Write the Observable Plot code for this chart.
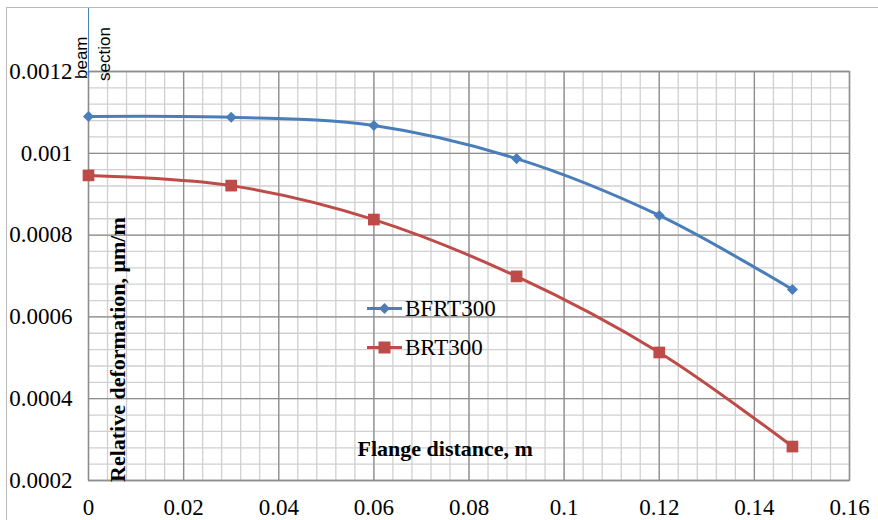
<!DOCTYPE html>
<html>
<head>
<meta charset="utf-8">
<script src="https://cdn.jsdelivr.net/npm/d3@7"></script>
<script src="https://cdn.jsdelivr.net/npm/@observablehq/plot@0.6"></script>
<style>
  html, body { margin: 0; padding: 0; background: #fff; }
  #wrap { position: relative; width: 878px; height: 520px; overflow: hidden; }
  #border { position: absolute; left: 6px; top: 7px; width: 880px; height: 600px; border: 1px solid #b8b8b8; box-sizing: border-box; }
  .lbl { position: absolute; font-family: "Liberation Serif", "Times New Roman", serif; font-weight: bold; color: #000; white-space: nowrap; }
  .ann { position: absolute; font-family: "Liberation Sans", "DejaVu Sans", sans-serif; font-size: 17px; line-height: 13px; color: #000; white-space: nowrap; transform-origin: 0 0; transform: rotate(-90deg); }
  #legend { position: absolute; left: 366px; top: 289px; font-family: "Liberation Serif", "Times New Roman", serif; font-size: 23px; }
  #legend div { display: flex; align-items: center; height: 39px; }
  #legend svg { margin-right: 2px; }
</style>
</head>
<body>
<div id="wrap">
  <div id="border"></div>
  <div id="chart"></div>
</div>
<script>
// ---- data ----
const distance = [0, 0.03, 0.06, 0.09, 0.12, 0.148];
const bfrt300 = [0.00109, 0.001088, 0.001068, 0.000987, 0.000848, 0.000667];
const brt300  = [0.000946, 0.000921, 0.000838, 0.000699, 0.000513, 0.000283];
const seriesNames = ["BFRT300", "BRT300"];
const seriesColors = ["#4A7EBB", "#BE4B48"];
const seriesSymbols = ["diamond2", "square"];
const xTicks = [0, 0.02, 0.04, 0.06, 0.08, 0.1, 0.12, 0.14, 0.16];
const yTicks = [0.0002, 0.0004, 0.0006, 0.0008, 0.001, 0.0012];
const xMinor = d3.range(0, 41).map(i => i * 0.004);
const yMinor = d3.range(0, 26).map(i => 0.0002 + i * 0.00004);
const xLabel = "Flange distance, m";
const yLabel = "Relative deformation, μm/m";
const beamMark = { x: 0, top: 0.001356, bottom: 0.001185 };
const beamWords = ["beam", "section"];

const rows = [];
distance.forEach((d, i) => {
  rows.push({ series: seriesNames[0], x: d, y: bfrt300[i] });
  rows.push({ series: seriesNames[1], x: d, y: brt300[i] });
});

const fmt = d => String(+d.toFixed(5));

const chart = Plot.plot({
  width: 878,
  height: 520,
  marginLeft: 88,
  marginRight: 29,
  marginTop: 71,
  marginBottom: 40,
  style: { fontFamily: "'Liberation Serif', 'Times New Roman', serif", fontSize: "23px", color: "#000", background: "transparent", overflow: "visible" },
  x: { domain: [0, 0.16] },
  y: { domain: [0.0002, 0.0012] },
  color: { domain: seriesNames, range: seriesColors },
  symbol: { domain: seriesNames, range: seriesSymbols },
  marks: [
    Plot.gridX(xMinor, { stroke: "#d0d0d0", strokeOpacity: 1, strokeWidth: 1.3 }),
    Plot.gridY(yMinor, { stroke: "#d0d0d0", strokeOpacity: 1, strokeWidth: 1.3 }),
    Plot.gridX(xTicks, { stroke: "#8e8e8e", strokeOpacity: 1, strokeWidth: 1.3 }),
    Plot.gridY(yTicks, { stroke: "#8e8e8e", strokeOpacity: 1, strokeWidth: 1.3 }),
    Plot.frame({ stroke: "#8e8e8e", strokeWidth: 1.3 }),
    Plot.ruleX([beamMark], { x: "x", y1: "top", y2: "bottom", stroke: "#4A7EBB", strokeWidth: 1, clip: false }),
    Plot.line(rows, { x: "x", y: "y", z: "series", stroke: "series", strokeWidth: 3, curve: "catmull-rom" }),
    Plot.dot(rows, Plot.filter(d => d.series === seriesNames[0], { x: "x", y: "y", symbol: "series", fill: "series", r: 5 })),
    Plot.dot(rows, Plot.filter(d => d.series === seriesNames[1], { x: "x", y: "y", symbol: "series", fill: "series", r: 6.6 })),
    Plot.axisX(xTicks, { tickSize: 0, tickPadding: 18, tickFormat: fmt, label: null }),
    Plot.axisY(yTicks, { tickSize: 0, tickPadding: 16, tickFormat: fmt, label: null })
  ]
});
document.getElementById("chart").appendChild(chart);

const wrap = document.getElementById("wrap");

// axis titles
const xl = document.createElement("div");
xl.className = "lbl";
xl.style.fontSize = "22px";
xl.textContent = xLabel;
wrap.appendChild(xl);
xl.style.left = (445 - xl.offsetWidth / 2) + "px";
xl.style.top = (449 - xl.offsetHeight / 2) + "px";

const yl = document.createElement("div");
yl.className = "lbl";
yl.style.fontSize = "22px";
yl.style.transformOrigin = "0 0";
yl.textContent = yLabel;
wrap.appendChild(yl);
const yh = yl.offsetHeight;
yl.style.transform = "rotate(-90deg)";
yl.style.left = (118 - yh / 2) + "px";
yl.style.top = "482px";

// beam section annotation
[[beamWords[0], 75, 79], [beamWords[1], 98, 81]].forEach(([t, x, bottom]) => {
  const a = document.createElement("div");
  a.className = "ann";
  a.textContent = t;
  wrap.appendChild(a);
  a.style.left = x + "px";
  a.style.top = bottom + "px";
});

// legend
const leg = document.createElement("div");
leg.id = "legend";
seriesNames.forEach((name, i) => {
  const row = document.createElement("div");
  const sym = seriesSymbols[i] === "square"
    ? `<rect x="12.5" y="4.5" width="12" height="12" fill="${seriesColors[i]}"/>`
    : `<path d="M18.5,5 L24,10.5 L18.5,16 L13,10.5Z" fill="${seriesColors[i]}"/>`;
  row.innerHTML = `<svg width="37" height="21"><line x1="1" x2="36" y1="10.5" y2="10.5" stroke="${seriesColors[i]}" stroke-width="3"/>${sym}</svg><span>${name}</span>`;
  leg.appendChild(row);
});
wrap.appendChild(leg);
</script>
</body>
</html>
